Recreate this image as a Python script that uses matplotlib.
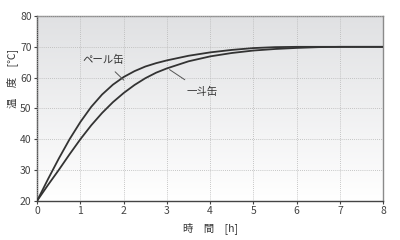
import numpy as np
import matplotlib.pyplot as plt
from matplotlib.colors import LinearSegmentedColormap

plt.rcParams['font.family'] = ['Noto Sans CJK JP', 'DejaVu Sans']

# hours / temperature
pail_t = [0, 0.25, 0.5, 0.75, 1, 1.25, 1.5, 1.75, 2, 2.25, 2.5, 2.75, 3, 3.5, 4, 4.5, 5, 5.5, 6, 7, 8]
pail_temp = [20, 27.0, 33.7, 40.0, 45.6, 50.5, 54.5, 57.7, 60.2, 62.1, 63.6, 64.7, 65.6,
             67.1, 68.2, 69.0, 69.6, 69.9, 70, 70, 70]
to_t = [0, 0.25, 0.5, 0.75, 1, 1.25, 1.5, 1.75, 2, 2.25, 2.5, 2.75, 3, 3.5, 4, 4.5, 5, 5.5, 6, 6.5, 7, 8]
to_temp = [20, 25.1, 30.0, 35.1, 40.0, 44.5, 48.5, 52.0, 55.0, 57.6, 59.8, 61.6, 63.0,
           65.3, 66.9, 68.0, 68.8, 69.3, 69.65, 69.9, 70, 70]

xticks = [0, 1, 2, 3, 4, 5, 6, 7, 8]
yticks = [20, 30, 40, 50, 60, 70, 80]

fig = plt.figure(figsize=(4, 2.4), dpi=100)
ax = fig.add_axes([0.093, 0.164, 0.865, 0.769])

# grey-to-white background gradient
cmap = LinearSegmentedColormap.from_list('bg', ['#ffffff', '#e0e1e3'])
grad = np.linspace(0, 1, 256).reshape(-1, 1)
ax.imshow(grad, extent=[0, 8, 20, 80], origin='lower', aspect='auto', cmap=cmap, zorder=0)

ax.plot(pail_t, pail_temp, color='#333333', lw=1.3, zorder=3, solid_joinstyle='round')
ax.plot(to_t, to_temp, color='#333333', lw=1.3, zorder=3, solid_joinstyle='round')

ax.set_xlim(0, 8)
ax.set_ylim(20, 80)
ax.set_xticks(xticks)
ax.set_yticks(yticks)
ax.grid(True, linestyle=(0, (1, 1.5)), color='#b5b5b5', lw=0.6, zorder=1)
ax.set_axisbelow(False)

for s in ['top', 'right']:
    ax.spines[s].set_color('#8a8a8a')
for s in ['left', 'bottom']:
    ax.spines[s].set_color('#444444')
for s in ax.spines.values():
    s.set_linewidth(1.0)
ax.tick_params(length=2, width=0.8, color='#444444', labelsize=7.5, labelcolor='#444444', pad=2)

ax.set_xlabel('時　間　[h]', fontsize=7.5, color='#333333', labelpad=4)
ax.text(-0.072, 0.825, '温　度　[℃]', transform=ax.transAxes, rotation=90,
        fontsize=7.5, color='#333333', ha='center', va='top')

ax.annotate('ペール缶', xy=(2.0, 59.2), xytext=(1.52, 65.7), fontsize=7.5, color='#333333',
            ha='center', va='center',
            arrowprops=dict(arrowstyle='-', color='#555555', lw=0.7, shrinkA=4, shrinkB=0))
ax.annotate('一斗缶', xy=(3.06, 62.6), xytext=(3.82, 55.5), fontsize=7.5, color='#333333',
            ha='center', va='center',
            arrowprops=dict(arrowstyle='-', color='#555555', lw=0.7, shrinkA=5, shrinkB=0))

fig.savefig('out.png', dpi=100)
